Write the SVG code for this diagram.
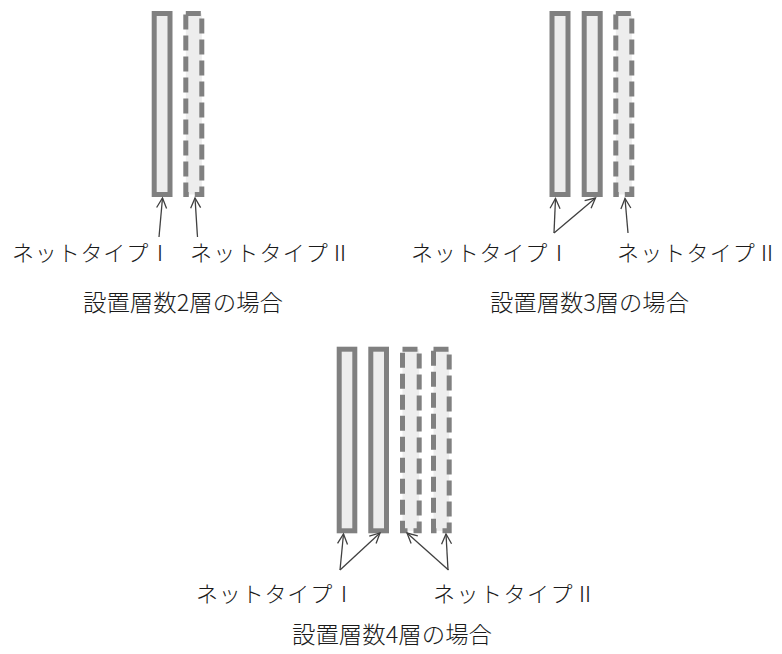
<svg xmlns="http://www.w3.org/2000/svg" width="782" height="654" viewBox="0 0 782 654">
<style>
.net{fill:#ededed;stroke:#808080;stroke-width:5}
.dash{stroke-dasharray:15 6}
.arr{fill:none;stroke:#404040;stroke-width:1.3;marker-end:url(#ah)}
text{font-family:"Noto Sans CJK JP","Noto Sans CJK SC",sans-serif;fill:#1a1a1a;font-weight:300}
.lbl{font-size:22px;font-variant-east-asian:full-width}
.cap{font-size:23px}
</style>
<defs>
<marker id="ah" markerUnits="userSpaceOnUse" markerWidth="14" markerHeight="14" viewBox="-12 -7 14 14" refX="0" refY="0" orient="auto">
<path d="M-10,-5 L0,0 L-10,5" fill="none" stroke="#404040" stroke-width="1.3"/>
</marker>
</defs>
<rect width="782" height="654" fill="#ffffff"/>
<g id="layer2">
<rect id="l2-n1" class="net" x="154.2" y="13.5" width="15.8" height="181"/>
<rect id="l2-n2" class="net dash" x="185.8" y="13.5" width="16" height="181"/>
</g>
<g id="layer3">
<rect id="l3-n1" class="net" x="552" y="13.5" width="16" height="181"/>
<rect id="l3-n2" class="net" x="584.2" y="13.5" width="16" height="181"/>
<rect id="l3-n3" class="net dash" x="615.8" y="13.5" width="16" height="181"/>
</g>
<g id="layer4">
<rect id="l4-n1" class="net" x="339.2" y="349.2" width="15.6" height="181.6"/>
<rect id="l4-n2" class="net" x="370.8" y="349.2" width="15.7" height="181.6"/>
<rect id="l4-n3" class="net dash" x="402.5" y="349.2" width="16.7" height="181.6"/>
<rect id="l4-n4" class="net dash" x="433.5" y="349.2" width="15.7" height="181.6"/>
</g>
<g id="connectors">
<line class="arr" x1="159" y1="237" x2="162.5" y2="198"/>
<line class="arr" x1="197.5" y1="237" x2="195" y2="198"/>
<line class="arr" x1="554" y1="233" x2="555.5" y2="198.5"/>
<line class="arr" x1="554" y1="233" x2="595.5" y2="198"/>
<line class="arr" x1="628" y1="233" x2="625" y2="198.5"/>
<line class="arr" x1="340" y1="570" x2="343.5" y2="534"/>
<line class="arr" x1="340" y1="570" x2="380" y2="533"/>
<line class="arr" x1="448.5" y1="570" x2="407" y2="533"/>
<line class="arr" x1="448" y1="570" x2="446" y2="534"/>
</g>
<g id="labels">
<text class="lbl" x="12" y="261" textLength="159" lengthAdjust="spacing">ネットタイプⅠ</text>
<text class="lbl" x="190" y="261" textLength="161" lengthAdjust="spacing">ネットタイプⅡ</text>
<text class="cap" x="83" y="311" textLength="200" lengthAdjust="spacingAndGlyphs">設置層数2層の場合</text>
<text class="lbl" x="411" y="261" textLength="159" lengthAdjust="spacing">ネットタイプⅠ</text>
<text class="lbl" x="617" y="261" textLength="161" lengthAdjust="spacing">ネットタイプⅡ</text>
<text class="cap" x="490" y="311" textLength="199" lengthAdjust="spacingAndGlyphs">設置層数3層の場合</text>
<text class="lbl" x="196" y="602" textLength="159" lengthAdjust="spacing">ネットタイプⅠ</text>
<text class="lbl" x="433" y="602" textLength="163" lengthAdjust="spacing">ネットタイプⅡ</text>
<text class="cap" x="292" y="643" textLength="200" lengthAdjust="spacingAndGlyphs">設置層数4層の場合</text>
</g>
</svg>
